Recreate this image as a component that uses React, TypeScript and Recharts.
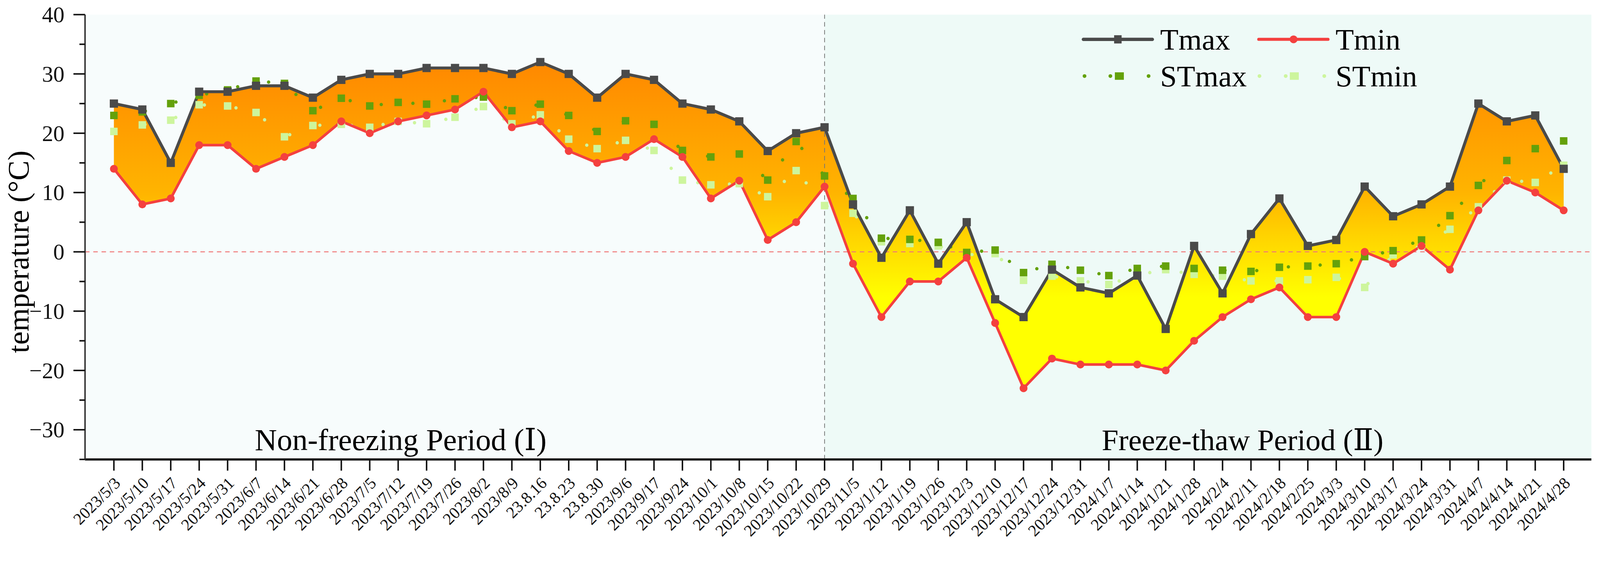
import {
  ComposedChart,
  Area,
  Line,
  XAxis,
  YAxis,
  ReferenceLine,
  ReferenceArea,
  Label,
} from "recharts";

const W = 4271;
const H = 1446;
const PLOT_LEFT = 227;
const FONT = '"Liberation Serif", "Times New Roman", serif';
const NUMERAL_FONT = '"DejaVu Serif", "Liberation Serif", serif';

const dates = [
  "2023/5/3", "2023/5/10", "2023/5/17", "2023/5/24", "2023/5/31", "2023/6/7",
  "2023/6/14", "2023/6/21", "2023/6/28", "2023/7/5", "2023/7/12", "2023/7/19",
  "2023/7/26", "2023/8/2", "2023/8/9", "23.8.16", "23.8.23", "23.8.30",
  "2023/9/6", "2023/9/17", "2023/9/24", "2023/10/1", "2023/10/8", "2023/10/15",
  "2023/10/22", "2023/10/29", "2023/11/5", "2023/1/12", "2023/1/19", "2023/1/26",
  "2023/12/3", "2023/12/10", "2023/12/17", "2023/12/24", "2023/12/31", "2024/1/7",
  "2024/1/14", "2024/1/21", "2024/1/28", "2024/2/4", "2024/2/11", "2024/2/18",
  "2024/2/25", "2024/3/3", "2024/3/10", "2024/3/17", "2024/3/24", "2024/3/31",
  "2024/4/7", "2024/4/14", "2024/4/21", "2024/4/28",
];

const tmax = [
  25, 24, 15, 27, 27, 28, 28, 26, 29, 30, 30, 31, 31, 31, 30, 32, 30, 26, 30, 29,
  25, 24, 22, 17, 20, 21, 8, -1, 7, -2, 5, -8, -11, -3, -6, -7, -4, -13, 1, -7,
  3, 9, 1, 2, 11, 6, 8, 11, 25, 22, 23, 14,
];

const tmin = [
  14, 8, 9, 18, 18, 14, 16, 18, 22, 20, 22, 23, 24, 27, 21, 22, 17, 15, 16, 19,
  16, 9, 12, 2, 5, 11, -2, -11, -5, -5, -1, -12, -23, -18, -19, -19, -19, -20, -15, -11,
  -8, -6, -11, -11, 0, -2, 1, -3, 7, 12, 10, 7,
];

const stmax = [
  23, 23.6, 25, 26.4, 27.3, 28.8, 28.4, 23.8, 25.9, 24.6, 25.2, 24.9, 25.8, 26.1,
  23.8, 24.9, 23, 20.3, 22.1, 21.5, 17.1, 16, 16.5, 12.1, 18.6, 12.8, 9, 2.3, 2.1,
  1.6, -0.1, 0.3, -3.5, -2.1, -3.1, -4, -2.8, -2.4, -2.8, -3.1, -3.3, -2.6, -2.4,
  -2, -0.8, 0.2, 2, 6.1, 11.2, 15.4, 17.4, 18.7,
];

const stmin = [
  20.3, 21.4, 22.2, 24.8, 24.6, 23.5, 19.4, 21.3, 21.5, 21, 22, 21.6, 22.7, 24.5,
  21.6, 23.1, 19, 17.4, 18.8, 17.1, 12.1, 11.3, 11.5, 9.3, 13.7, 7.8, 6.5, 1.7, 1.4,
  1, -0.5, -0.3, -4.8, -4.1, -4.9, -5.5, -3.9, -3, -3.8, -4.1, -4.9, -4.9, -4.7,
  -4.3, -6, -0.5, 1, 3.8, 7.6, 12.1, 11.7, 14.6,
];

const yTicks = [-35, -30, -25, -20, -15, -10, -5, 0, 5, 10, 15, 20, 25, 30, 35, 40];
const boundaryIdx = 25; // 2023/10/29, start of freeze-thaw period
const xDomain = [-1.015, 51.975];

const COLORS = {
  tmax: "#4a4a4a",
  tmin: "#f4403f",
  stmax: "#64a10b",
  stmin: "#cdf59d",
};

const data = dates.map((d, i) => ({
  idx: i,
  date: d,
  tmax: tmax[i],
  tmin: tmin[i],
  stmax: stmax[i],
  stmin: stmin[i],
  range: [tmin[i], tmax[i]],
}));

function DateTick({ x, y, payload }: any) {
  return (
    <text
      x={0}
      y={0}
      transform={`translate(${x + 20},${y + 34}) rotate(-45)`}
      textAnchor="end"
      fontSize={44}
      fill="#111"
      fontFamily={FONT}
    >
      {dates[payload.value]}
    </text>
  );
}

function TempTick({ y, payload }: any) {
  const v = payload.value;
  const major = v % 10 === 0;
  const label = v < 0 ? `\u2212${Math.abs(v)}` : `${v}`;
  return (
    <g>
      <line
        x1={PLOT_LEFT - (major ? 31 : 15)}
        x2={PLOT_LEFT}
        y1={y}
        y2={y}
        stroke="#111"
        strokeWidth={4}
      />
      {major && (
        <text x={172} y={y} dy="0.34em" textAnchor="end" fontSize={60} fill="#111" fontFamily={FONT}>
          {label}
        </text>
      )}
    </g>
  );
}

const squareDot = (color: string, size: number) => (props: any) => {
  const { cx, cy, index } = props;
  if (cx == null || cy == null) return <g key={`e${index}`} />;
  return (
    <rect key={`s${index}`} x={cx - size / 2} y={cy - size / 2} width={size} height={size} fill={color} />
  );
};

const circleDot = (color: string, r: number) => (props: any) => {
  const { cx, cy, index } = props;
  if (cx == null || cy == null) return <g key={`e${index}`} />;
  return <circle key={`c${index}`} cx={cx} cy={cy} r={r} fill={color} />;
};

function Legend() {
  const row1 = 105;
  const row2 = 203;
  const txt = { fontSize: 80, fill: "#000", fontFamily: FONT };
  return (
    <g>
      <line x1={2892} x2={3076} y1={row1} y2={row1} stroke={COLORS.tmax} strokeWidth={9} strokeLinecap="round" />
      <rect x={2974} y={row1 - 11} width={20} height={22} fill={COLORS.tmax} />
      <text x={3097} y={row1 + 27} {...txt}>Tmax</text>

      <line x1={3360} x2={3545} y1={row1} y2={row1} stroke={COLORS.tmin} strokeWidth={8} strokeLinecap="round" />
      <circle cx={3453} cy={row1} r={10.5} fill={COLORS.tmin} />
      <text x={3565} y={row1 + 27} {...txt}>Tmin</text>

      {[2895, 2964, 3066].map((x) => (
        <circle key={x} cx={x} cy={row2} r={5} fill={COLORS.stmax} />
      ))}
      <rect x={2976} y={row2 - 10} width={24} height={20} fill={COLORS.stmax} />
      <text x={3097} y={row2 + 27} {...txt}>STmax</text>

      {[3362, 3432, 3535].map((x) => (
        <circle key={x} cx={x} cy={row2} r={5} fill={COLORS.stmin} />
      ))}
      <rect x={3443} y={row2 - 10} width={24} height={20} fill={COLORS.stmin} />
      <text x={3565} y={row2 + 27} {...txt}>STmin</text>
    </g>
  );
}

export default function App() {
  // the page may be narrower in CSS pixels than the photo; fit the drawing to it
  const fit =
    typeof window !== "undefined" && window.innerWidth > 0
      ? Math.min(1, window.innerWidth / W)
      : 1;

  return (
    <div
      style={{
        position: "absolute",
        left: 0,
        top: 0,
        width: W,
        height: H,
        background: "#fff",
        transform: `scale(${fit})`,
        transformOrigin: "0 0",
      }}
    >
      <ComposedChart
        width={W}
        height={H}
        data={data}
        margin={{ top: 39, right: 23, bottom: 0, left: 0 }}
        style={{ fontFamily: FONT }}
      >
        <defs>
          <linearGradient id="tempFill" x1="0" y1="0" x2="0" y2="1">
            <stop offset="0%" stopColor="#ff8800" />
            <stop offset="40%" stopColor="#ffb400" />
            <stop offset="72%" stopColor="#ffff00" />
            <stop offset="100%" stopColor="#ffff00" />
          </linearGradient>
        </defs>

        <ReferenceArea x1={xDomain[0]} x2={boundaryIdx} y1={-35} y2={40} fill="#f7fcfc" fillOpacity={1} stroke="none" />
        <ReferenceArea x1={boundaryIdx} x2={xDomain[1]} y1={-35} y2={40} fill="#eefaf7" fillOpacity={1} stroke="none" />

        <XAxis
          dataKey="idx"
          type="number"
          domain={xDomain}
          allowDataOverflow
          ticks={dates.map((_, i) => i)}
          interval={0}
          tick={<DateTick />}
          tickSize={30}
          tickLine={{ stroke: "#111", strokeWidth: 4 }}
          axisLine={{ stroke: "#1a1a1a", strokeWidth: 6 }}
          height={220}
        />
        <XAxis
          xAxisId="top"
          orientation="top"
          dataKey="idx"
          type="number"
          domain={xDomain}
          allowDataOverflow
          tick={false}
          tickLine={false}
          axisLine={{ stroke: "#000", strokeWidth: 7 }}
          height={0}
        />
        <YAxis
          type="number"
          domain={[-35, 40]}
          ticks={yTicks}
          interval={0}
          tick={<TempTick />}
          tickLine={false}
          axisLine={{ stroke: "#333", strokeWidth: 4 }}
          width={PLOT_LEFT}
        >
          <Label
            content={() => (
              <text
                transform="translate(76,672) rotate(-90)"
                textAnchor="middle"
                fontSize={80}
                fill="#000"
                fontFamily={FONT}
              >
                temperature (°C)
              </text>
            )}
          />
        </YAxis>
        <YAxis
          yAxisId="right"
          orientation="right"
          type="number"
          domain={[-35, 40]}
          tick={false}
          tickLine={false}
          axisLine={{ stroke: "#000", strokeWidth: 6 }}
          width={0}
        />

        <ReferenceLine y={0} stroke="#f07878" strokeWidth={2.5} strokeDasharray="12 10" />
        <ReferenceLine x={boundaryIdx} stroke="#777" strokeWidth={2} strokeDasharray="12 9" />

        <Area
          type="linear"
          dataKey="range"
          stroke="none"
          fill="url(#tempFill)"
          fillOpacity={1}
          isAnimationActive={false}
          activeDot={false}
        />

        <Line
          type="linear"
          dataKey="stmin"
          stroke={COLORS.stmin}
          strokeWidth={9}
          strokeDasharray="0 85"
          strokeLinecap="round"
          dot={squareDot(COLORS.stmin, 20)}
          activeDot={false}
          isAnimationActive={false}
        />
        <Line
          type="linear"
          dataKey="stmax"
          stroke={COLORS.stmax}
          strokeWidth={9}
          strokeDasharray="0 85"
          strokeLinecap="round"
          dot={squareDot(COLORS.stmax, 20)}
          activeDot={false}
          isAnimationActive={false}
        />
        <Line
          type="linear"
          dataKey="tmax"
          stroke={COLORS.tmax}
          strokeWidth={8}
          dot={squareDot(COLORS.tmax, 22)}
          activeDot={false}
          isAnimationActive={false}
        />
        <Line
          type="linear"
          dataKey="tmin"
          stroke={COLORS.tmin}
          strokeWidth={7}
          dot={circleDot(COLORS.tmin, 10.5)}
          activeDot={false}
          isAnimationActive={false}
        />
      </ComposedChart>

      <svg
        width={W}
        height={H}
        style={{ position: "absolute", left: 0, top: 0, pointerEvents: "none" }}
      >
        <Legend />
        <text x={680} y={1201} fontSize={82} fill="#000" fontFamily={FONT}>
          Non-freezing Period (<tspan fontFamily={NUMERAL_FONT}>Ⅰ</tspan>)
        </text>
        <text x={2941} y={1201} fontSize={80} fill="#000" fontFamily={FONT}>
          Freeze-thaw Period (<tspan fontFamily={NUMERAL_FONT}>Ⅱ</tspan>)
        </text>
      </svg>
    </div>
  );
}
